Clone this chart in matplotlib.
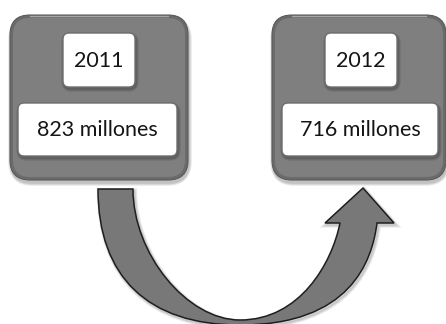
import numpy as np
import matplotlib.pyplot as plt
from matplotlib.patches import FancyBboxPatch, PathPatch
from matplotlib.path import Path

# values shown in the two panels
years = ['2011', '2012']
totals = [823, 716]
unit = 'millones'

# panel geometry (pixel space, y grows downward)
panel_x = [10, 272]
panel_w = [178, 174]
panel_top, panel_bot = 15, 180
year_x = [63, 325]
year_w = 72
year_top, year_bot = 33, 87
val_x = [18, 282]
val_w = [159, 156]
val_top, val_bot = 103, 156

plt.rcParams['font.family'] = ['Lato', 'DejaVu Sans']

fig = plt.figure(figsize=(4.46, 3.24), dpi=100)
ax = fig.add_axes([0, 0, 1, 1])
ax.set_xlim(0, 446)
ax.set_ylim(324, 0)
ax.axis('off')


def rbox(x, y, w, h, r, **kw):
    p = FancyBboxPatch((x, y), w, h, boxstyle='round,pad=0,rounding_size=%g' % r, **kw)
    ax.add_patch(p)
    return p


def soft_shadow(x, y, w, h, r, dx=2, dy=3, z=1):
    for k in range(5):
        g = 5 - k
        rbox(x + dx - g * 0.6, y + dy - g * 0.6, w + g * 1.2, h + g * 1.2, r + g,
             fc='black', ec='none', alpha=0.05, zorder=z)


for i in range(2):
    x, w = panel_x[i], panel_w[i]
    h = panel_bot - panel_top
    soft_shadow(x, panel_top, w, h, 20, dx=1, dy=3)
    rbox(x, panel_top, w, h, 20, fc='#6b6b6b', ec='#5a5a5a', lw=0.8, zorder=2)
    rbox(x + 3, panel_top + 3, w - 6, h - 6, 17, fc='#7f7f7f', ec='none', zorder=3)
    ax.plot([x + 20, x + w - 20], [panel_top + 1, panel_top + 1], color='#a8a8a8',
            lw=1.0, zorder=4, solid_capstyle='round')

    # year box
    soft_shadow(year_x[i], year_top, year_w, year_bot - year_top, 6, dx=1, dy=2, z=4)
    rbox(year_x[i], year_top, year_w, year_bot - year_top, 6,
         fc='white', ec='#6e6e6e', lw=1.0, zorder=5)
    ax.text(year_x[i] + year_w / 2, (year_top + year_bot) / 2 + 1, years[i],
            ha='center', va='center', fontsize=15.5, color='#151515', zorder=6)

    # total box
    soft_shadow(val_x[i], val_top, val_w[i], val_bot - val_top, 6, dx=1, dy=2, z=4)
    rbox(val_x[i], val_top, val_w[i], val_bot - val_top, 6,
         fc='white', ec='#6e6e6e', lw=1.0, zorder=5)
    ax.text(val_x[i] + val_w[i] / 2, (val_top + val_bot) / 2 + 1,
            '%d %s' % (totals[i], unit),
            ha='center', va='center', fontsize=15.5, color='#151515', zorder=6)

# curved arrow from the first panel to the second
M, C, L = Path.MOVETO, Path.CURVE4, Path.LINETO
verts = [
    (98, 189),
    (98, 277), (148, 325), (240, 325),
    (350, 325), (372, 262), (377, 223),
    (394, 223), (363, 188), (325, 223), (340, 223),
    (332, 263), (300, 320), (240, 320),
    (187, 320), (133, 254), (133, 189),
    (98, 189),
]
codes = [M, C, C, C, C, C, C, L, L, L, L, C, C, C, C, C, C, Path.CLOSEPOLY]
arrow = Path(verts, codes)

for k in range(4):
    sh = Path(np.array(verts) + [1.5, 2.0], codes)
    ax.add_patch(PathPatch(sh, fc='none', ec='black', lw=4 - k, alpha=0.06, zorder=7))
ax.add_patch(PathPatch(arrow, fc='#787878', ec='#1e1e1e', lw=1.1, zorder=8,
                       joinstyle='miter'))

fig.savefig('out.png', dpi=100)
